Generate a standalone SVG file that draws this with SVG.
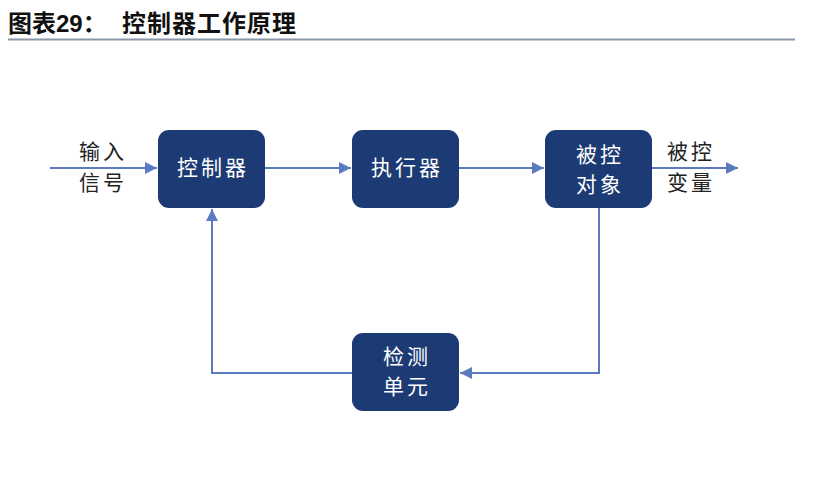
<svg xmlns="http://www.w3.org/2000/svg" width="824" height="485" viewBox="0 0 824 485">
<style>
.box{fill:#1c3a73;}
.bt{fill:#ffffff;font-family:"Noto Sans CJK SC",sans-serif;font-size:21px;text-anchor:middle;letter-spacing:3px;}
.lt{fill:#222222;font-family:"Noto Sans CJK SC",sans-serif;font-size:21px;text-anchor:middle;letter-spacing:3px;}
.ln{fill:none;stroke:#5b7bc0;stroke-width:2;}
.title{fill:#111111;font-family:"Liberation Sans","Noto Sans CJK SC",sans-serif;font-size:24px;font-weight:bold;}
</style>
<defs>
<marker id="ah" viewBox="0 0 10 10" refX="10" refY="5" markerWidth="6" markerHeight="6" orient="auto" markerUnits="strokeWidth">
<path d="M0,0 L10,5 L0,10 z" fill="#5b7bc0"/>
</marker>
</defs>
<rect width="824" height="485" fill="#ffffff"/>
<g id="title">
<text class="title" x="8" y="32">图表29：</text>
<text class="title" x="122" y="32" letter-spacing="1" font-family="Noto Sans CJK SC,sans-serif">控制器工作原理</text>
<line x1="8" y1="39.5" x2="795" y2="39.5" stroke="#8a97aa" stroke-width="2"/>
</g>
<g id="connectors">
<line class="ln" x1="50" y1="168" x2="157" y2="168" marker-end="url(#ah)"/>
<line class="ln" x1="265" y1="168" x2="351" y2="168" marker-end="url(#ah)"/>
<line class="ln" x1="459" y1="168" x2="544" y2="168" marker-end="url(#ah)"/>
<line class="ln" x1="652" y1="168" x2="738" y2="168" marker-end="url(#ah)"/>
<polyline class="ln" points="599,208 599,373 460,373" marker-end="url(#ah)"/>
<polyline class="ln" points="352,373 212,373 212,209" marker-end="url(#ah)"/>
</g>
<g id="label-input">
<text class="lt" x="103" y="159">输入</text>
<text class="lt" x="103" y="190">信号</text>
</g>
<g id="label-output">
<text class="lt" x="691" y="159">被控</text>
<text class="lt" x="691" y="190">变量</text>
</g>
<g id="node-controller">
<rect class="box" x="158" y="130" width="107" height="78" rx="11"/>
<text class="bt" x="213" y="175">控制器</text>
</g>
<g id="node-actuator">
<rect class="box" x="352" y="130" width="107" height="78" rx="11"/>
<text class="bt" x="407" y="175">执行器</text>
</g>
<g id="node-plant">
<rect class="box" x="545" y="130" width="107" height="78" rx="11"/>
<text class="bt" x="600" y="162">被控</text>
<text class="bt" x="600" y="192">对象</text>
</g>
<g id="node-sensor">
<rect class="box" x="352" y="333" width="107" height="78" rx="11"/>
<text class="bt" x="407" y="364">检测</text>
<text class="bt" x="407" y="394">单元</text>
</g>
</svg>
